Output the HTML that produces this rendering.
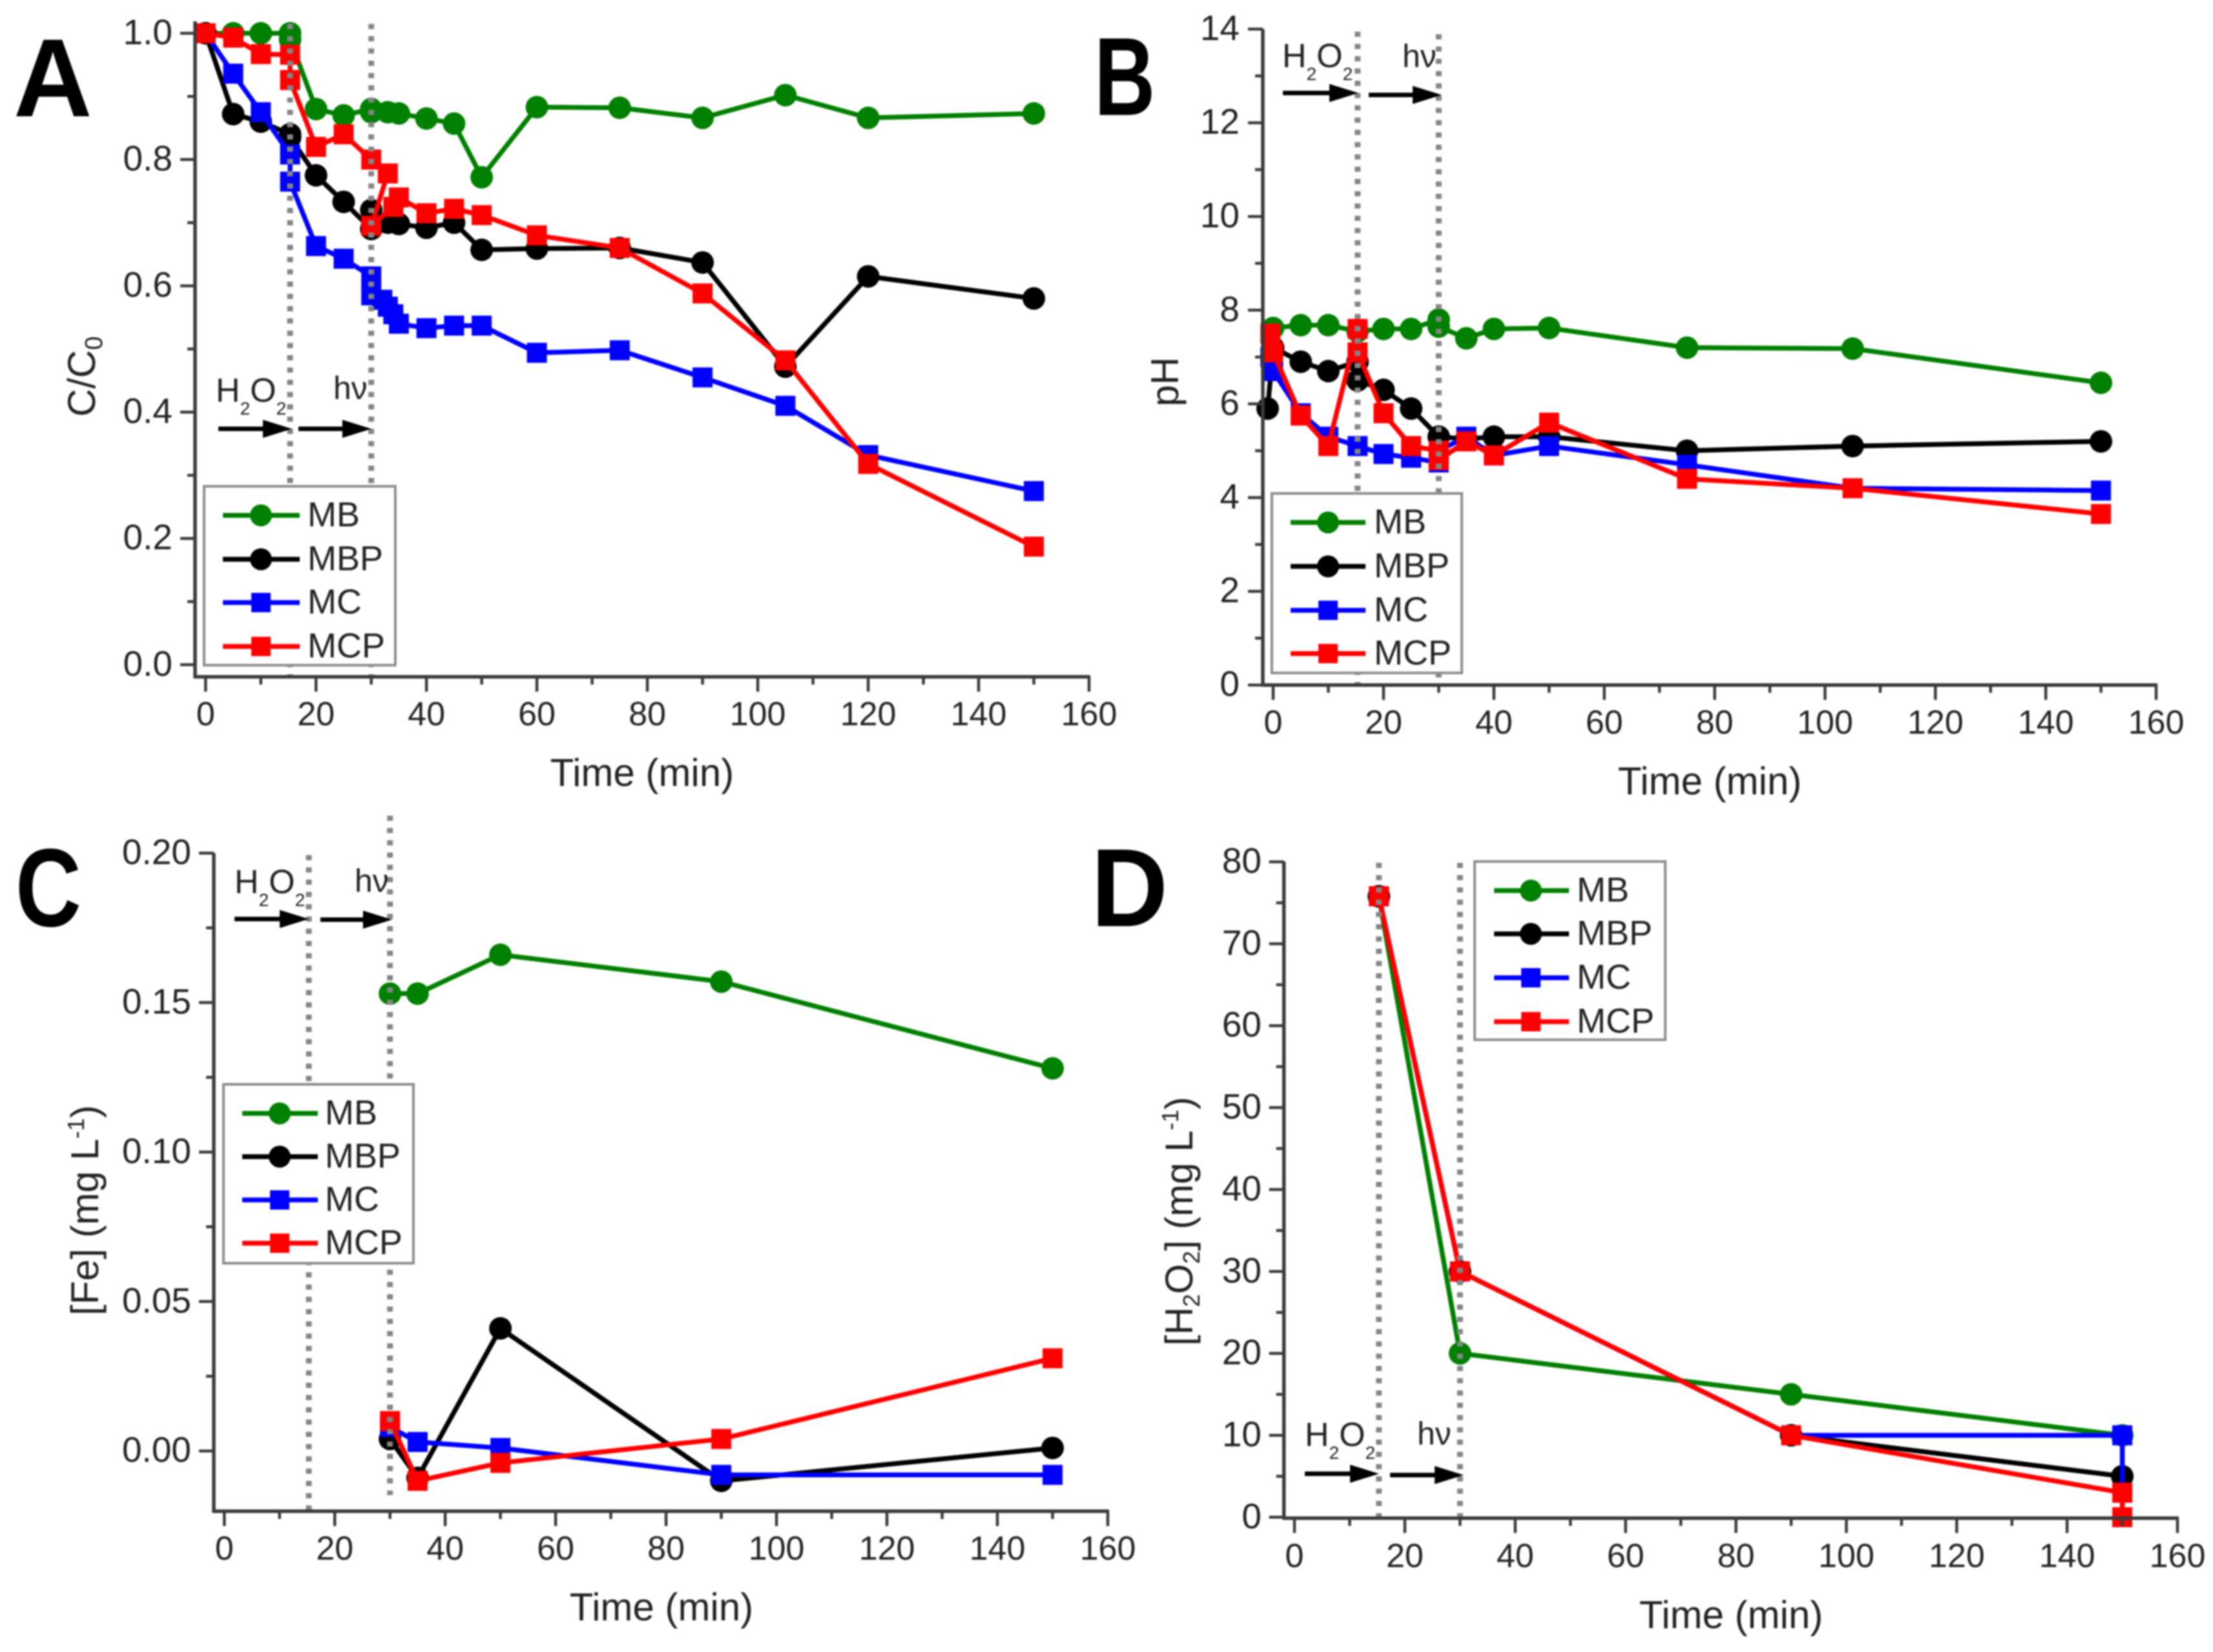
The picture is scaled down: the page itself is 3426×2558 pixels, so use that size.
<!DOCTYPE html>
<html lang="en">
<head>
<meta charset="utf-8">
<title>Degradation kinetics panels</title>
<style>
html,body{margin:0;padding:0;background:#fff}
#figure{display:block;width:3426px;height:2558px;filter:blur(1.4px);background:#fff}
text{font-family:"Liberation Sans",Arial,sans-serif;fill:#222}
.tick-x{font-size:52px}
.tick-y{font-size:55px}
.axis-title{font-size:60px}
.legend-text{font-size:54px}
.note{font-size:52px}
.note-hv{font-size:50px}
.letter{font-size:172px;font-weight:700;fill:#000}
.legend-box{fill:#fff;stroke:#8c8c8c;stroke-width:4}
.arrow-shaft{stroke:#000;stroke-width:7;fill:none}
</style>
</head>
<body>
<svg id="figure" xmlns="http://www.w3.org/2000/svg" width="3426" height="2558" viewBox="0 0 3426 2558">
<rect x="0" y="0" width="3426" height="2558" fill="#fff"/>

<g id="panel-a"><g class="plot"></g>
 <text class="letter" transform="translate(21 180) scale(.98 1)">A</text>
 <text class="axis-title" x="994" y="1217" text-anchor="middle">Time (min)</text>
 <text class="axis-title" transform="translate(147 583) rotate(-90)" text-anchor="middle">C/C<tspan font-size="38" dy="11">0</tspan></text>
 <g><rect class="legend-box" x="316" y="753" width="296" height="277"/>
  <g><line x1="345" x2="464" y1="798" y2="798" stroke="#008000" stroke-width="7.5"/><circle cx="404" cy="798" r="17" fill="#008000"/><text class="legend-text" x="476" y="815">MB</text></g>
  <g><line x1="345" x2="464" y1="866" y2="866" stroke="#000" stroke-width="7.5"/><circle cx="404" cy="866" r="17" fill="#000"/><text class="legend-text" x="476" y="883">MBP</text></g>
  <g><line x1="345" x2="464" y1="933" y2="933" stroke="#0000ff" stroke-width="7.5"/><rect x="389" y="918" width="30" height="30" fill="#0000ff"/><text class="legend-text" x="476" y="950">MC</text></g>
  <g><line x1="345" x2="464" y1="1001" y2="1001" stroke="#ff0000" stroke-width="7.5"/><rect x="389" y="986" width="30" height="30" fill="#ff0000"/><text class="legend-text" x="476" y="1018">MCP</text></g>
 </g>
 <text class="note" x="334" y="622">H<tspan font-size="28" dy="20">2</tspan><tspan dy="-20">O</tspan><tspan font-size="28" dy="20">2</tspan></text>
 <text class="note-hv" x="516" y="618">hν</text>
 <g><line class="arrow-shaft" x1="338" x2="415" y1="664" y2="664"/><polygon points="452,664 407,650 407,678" fill="#000"/></g>
 <g><line class="arrow-shaft" x1="462" x2="538" y1="664" y2="664"/><polygon points="575,664 530,650 530,678" fill="#000"/></g>
</g>

<g id="panel-b"><g class="plot"></g>
 <text class="letter" transform="translate(1694 178) scale(.76 1)">B</text>
 <text class="axis-title" x="2647" y="1230" text-anchor="middle">Time (min)</text>
 <text class="axis-title" transform="translate(1824 591) rotate(-90)" text-anchor="middle">pH</text>
 <g><rect class="legend-box" x="1969" y="764" width="294" height="278"/>
  <g><line x1="1998" x2="2114" y1="809" y2="809" stroke="#008000" stroke-width="7.5"/><circle cx="2056" cy="809" r="17" fill="#008000"/><text class="legend-text" x="2127" y="826">MB</text></g>
  <g><line x1="1998" x2="2114" y1="877" y2="877" stroke="#000" stroke-width="7.5"/><circle cx="2056" cy="877" r="17" fill="#000"/><text class="legend-text" x="2127" y="894">MBP</text></g>
  <g><line x1="1998" x2="2114" y1="945" y2="945" stroke="#0000ff" stroke-width="7.5"/><rect x="2041" y="930" width="30" height="30" fill="#0000ff"/><text class="legend-text" x="2127" y="962">MC</text></g>
  <g><line x1="1998" x2="2114" y1="1012" y2="1012" stroke="#ff0000" stroke-width="7.5"/><rect x="2041" y="997" width="30" height="30" fill="#ff0000"/><text class="legend-text" x="2127" y="1029">MCP</text></g>
 </g>
 <text class="note" x="1985" y="104">H<tspan font-size="28" dy="20">2</tspan><tspan dy="-20">O</tspan><tspan font-size="28" dy="20">2</tspan></text>
 <text class="note-hv" x="2171" y="104">hν</text>
 <g><line class="arrow-shaft" x1="1986" x2="2066" y1="144" y2="144"/><polygon points="2103,144 2058,130 2058,158" fill="#000"/></g>
 <g><line class="arrow-shaft" x1="2119" x2="2195" y1="147" y2="147"/><polygon points="2232,147 2187,133 2187,161" fill="#000"/></g>
</g>

<g id="panel-c"><g class="plot"></g>
 <text class="letter" transform="translate(24 1434) scale(.82 1)">C</text>
 <text class="axis-title" x="1024" y="2509" text-anchor="middle">Time (min)</text>
 <text class="axis-title" transform="translate(152 1874) rotate(-90)" text-anchor="middle">[Fe] (mg L<tspan font-size="36" dy="-22">-1</tspan><tspan dy="22">)</tspan></text>
 <g><rect class="legend-box" x="346" y="1679" width="294" height="277"/>
  <g><line x1="375" x2="492" y1="1724" y2="1724" stroke="#008000" stroke-width="7.5"/><circle cx="433" cy="1724" r="17" fill="#008000"/><text class="legend-text" x="503" y="1741">MB</text></g>
  <g><line x1="375" x2="492" y1="1791" y2="1791" stroke="#000" stroke-width="7.5"/><circle cx="433" cy="1791" r="17" fill="#000"/><text class="legend-text" x="503" y="1808">MBP</text></g>
  <g><line x1="375" x2="492" y1="1858" y2="1858" stroke="#0000ff" stroke-width="7.5"/><rect x="418" y="1843" width="30" height="30" fill="#0000ff"/><text class="legend-text" x="503" y="1875">MC</text></g>
  <g><line x1="375" x2="492" y1="1925" y2="1925" stroke="#ff0000" stroke-width="7.5"/><rect x="418" y="1910" width="30" height="30" fill="#ff0000"/><text class="legend-text" x="503" y="1942">MCP</text></g>
 </g>
 <text class="note" x="363" y="1383">H<tspan font-size="28" dy="20">2</tspan><tspan dy="-20">O</tspan><tspan font-size="28" dy="20">2</tspan></text>
 <text class="note-hv" x="549" y="1381">hν</text>
 <g><line class="arrow-shaft" x1="363" x2="441" y1="1423" y2="1423"/><polygon points="478,1423 433,1409 433,1437" fill="#000"/></g>
 <g><line class="arrow-shaft" x1="496" x2="570" y1="1424" y2="1424"/><polygon points="607,1424 562,1410 562,1438" fill="#000"/></g>
</g>

<g id="panel-d"><g class="plot"></g>
 <text class="letter" transform="translate(1689 1434) scale(.96 1)">D</text>
 <text class="axis-title" x="2680" y="2521" text-anchor="middle">Time (min)</text>
 <text class="axis-title" transform="translate(1846 1891) rotate(-90)" text-anchor="middle">[H<tspan font-size="36" dy="11">2</tspan><tspan dy="-11">O</tspan><tspan font-size="36" dy="11">2</tspan><tspan dy="-11">] (mg L</tspan><tspan font-size="36" dy="-22">-1</tspan><tspan dy="22">)</tspan></text>
 <g><rect class="legend-box" x="2283" y="1334" width="295" height="276"/>
  <g><line x1="2313" x2="2429" y1="1379" y2="1379" stroke="#008000" stroke-width="7.5"/><circle cx="2370" cy="1379" r="17" fill="#008000"/><text class="legend-text" x="2441" y="1396">MB</text></g>
  <g><line x1="2313" x2="2429" y1="1446" y2="1446" stroke="#000" stroke-width="7.5"/><circle cx="2370" cy="1446" r="17" fill="#000"/><text class="legend-text" x="2441" y="1463">MBP</text></g>
  <g><line x1="2313" x2="2429" y1="1514" y2="1514" stroke="#0000ff" stroke-width="7.5"/><rect x="2355" y="1499" width="30" height="30" fill="#0000ff"/><text class="legend-text" x="2441" y="1531">MC</text></g>
  <g><line x1="2313" x2="2429" y1="1582" y2="1582" stroke="#ff0000" stroke-width="7.5"/><rect x="2355" y="1567" width="30" height="30" fill="#ff0000"/><text class="legend-text" x="2441" y="1599">MCP</text></g>
 </g>
 <text class="note" x="2020" y="2239">H<tspan font-size="28" dy="20">2</tspan><tspan dy="-20">O</tspan><tspan font-size="28" dy="20">2</tspan></text>
 <text class="note-hv" x="2194" y="2237">hν</text>
 <g><line class="arrow-shaft" x1="2020" x2="2098" y1="2282" y2="2282"/><polygon points="2135,2282 2090,2268 2090,2296" fill="#000"/></g>
 <g><line class="arrow-shaft" x1="2152" x2="2229" y1="2284" y2="2284"/><polygon points="2266,2284 2221,2270 2221,2298" fill="#000"/></g>
</g>
</svg>

<script>
// ---- shared axis data ----
const timeTickLabels = ["0","20","40","60","80","100","120","140","160"];
const treatmentTimes = [15.3, 30];

// ---- panel A: C/C0 ----
const aYTickLabels = ["0.0","0.2","0.4","0.6","0.8","1.0"];
const aMbTime  = [0,5,10,15.3,15.3,20,25,30,30,33,35,40,45,50,60,75,90,105,120,150];
const aMbVals  = [1,1,1,1,.99,.88,.87,.88,.875,.875,.873,.865,.857,.772,.883,.882,.866,.902,.866,.873];
const aMbpTime = [0,5,10,15.3,15.3,20,25,30,30,33,35,40,45,50,60,75,90,105,120,150];
const aMbpVals = [1,.872,.86,.84,.835,.775,.733,.69,.72,.70,.698,.692,.70,.657,.659,.66,.637,.472,.615,.58];
const aMcTime  = [0,5,10,15.3,15.3,20,25,30,30,32,33,34,35,40,45,50,60,75,90,105,120,150];
const aMcVals  = [1,.936,.875,.808,.765,.663,.643,.615,.585,.578,.567,.555,.54,.533,.537,.537,.494,.498,.455,.41,.332,.275];
const aMcpTime = [0,5,10,15.3,15.3,20,25,30,33,30,34,35,40,45,50,60,75,90,105,120,150];
const aMcpVals = [1,.993,.967,.966,.926,.82,.84,.80,.778,.695,.725,.74,.715,.722,.712,.68,.66,.588,.482,.318,.187];

// ---- panel B: pH ----
const bYTickLabels = ["0","2","4","6","8","10","12","14"];
const bMbTime  = [0,5,10,15.3,20,25,30,30,35,40,50,75,105,150];
const bMbVals  = [7.62,7.68,7.68,7.55,7.6,7.6,7.8,7.65,7.4,7.6,7.62,7.2,7.18,6.45];
const bMbpTime = [-1,0,5,10,15.3,15.3,20,25,30,35,40,50,75,105,150];
const bMbpVals = [5.9,7.2,6.9,6.7,6.9,6.5,6.3,5.9,5.3,5.25,5.3,5.3,5,5.1,5.2];
const bMcTime  = [-0.5,0,5,10,15.3,20,25,30,30,35,40,50,75,105,150];
const bMcVals  = [7,6.7,5.8,5.3,5.1,4.93,4.85,4.75,5,5.3,4.9,5.1,4.7,4.2,4.15];
const bMcpTime = [-0.5,0,5,10,15.3,15.3,20,25,30,30,35,40,50,75,105,150];
const bMcpVals = [7.5,7.1,5.75,5.1,7.6,7.1,5.8,5.1,5,4.8,5.2,4.9,5.6,4.4,4.2,3.65];

// ---- panel C: [Fe] ----
const cYTickLabels = ["0.00","0.05","0.10","0.15","0.20"];
const cTime    = [30,35,50,90,150];
const cMbVals  = [.153,.153,.166,.157,.128];
const cMbpVals = [.004,-.009,.041,-.01,.001];
const cMcVals  = [.008,.003,.001,-.008,-.008];
const cMcpVals = [.01,-.01,-.004,.004,.031];

// ---- panel D: [H2O2] ----
const dYTickLabels = ["0","10","20","30","40","50","60","70","80"];
const dMbTime  = [15.3,30,90,150];
const dMbVals  = [75.8,20,15,10];
const dMbpTime = [15.3,30,90,150];
const dMbpVals = [75.8,30,10,5];
const dMcTime  = [15.3,30,90,150,150];
const dMcVals  = [75.8,30,10,10,3];
const dMcpTime = [15.3,30,90,150,150];
const dMcpVals = [75.8,30,10,3,0];

const seriesStyles = {
  mb:{color:"#008000",shape:"circle"},
  mbp:{color:"#000000",shape:"circle"},
  mc:{color:"#0000ff",shape:"square"},
  mcp:{color:"#ff0000",shape:"square"}
};

const NS = "http://www.w3.org/2000/svg";
function make(tag, attrs, parent){
  const el = document.createElementNS(NS, tag);
  for (const k in attrs) el.setAttribute(k, attrs[k]);
  parent.appendChild(el);
  return el;
}

function drawPanel(id, frame, yLabels, series){
  const root = document.querySelector("#panel-" + id + " .plot");
  const xScale = t => frame.x0 + (t - 0) * (frame.x1 - frame.x0) / 160;
  const yScale = v => frame.yLo + (v - frame.vLo) * (frame.yHi - frame.yLo) / (frame.vHi - frame.vLo);
  const AX = "#3a3a3a";

  series.forEach(s => {
    const st = seriesStyles[s.key];
    const g = make("g", {}, root);
    
    
    const pts = s.t.map((t,i) => xScale(t).toFixed(1) + "," + yScale(s.v[i]).toFixed(1)).join(" ");
    const line = make("polyline", {points:pts, fill:"none", stroke:st.color, "stroke-width":7.5, "stroke-linejoin":"round"}, g);
    
    
    s.t.forEach((t,i) => {
      const px = xScale(t), py = yScale(s.v[i]);
      const m = st.shape === "circle"
        ? make("circle", {cx:px, cy:py, r:17.5, fill:st.color}, g)
        : make("rect", {x:px-15.5, y:py-15.5, width:31, height:31, fill:st.color}, g);
      
      
    });
  });

  treatmentTimes.forEach((t,i) => {
    const v = make("line", {x1:xScale(t), x2:xScale(t), y1:frame.dotTop[i], y2:frame.dotBottom[i], stroke:"#858585", "stroke-width":9, "stroke-dasharray":"8 11"}, root);
    
    
  });

  const axisY = make("line", {x1:frame.axisLeft, x2:frame.axisLeft, y1:frame.axisTop, y2:frame.axisBottom+2, stroke:AX, "stroke-width":5.5}, root);
  
  
  const axisX = make("line", {x1:frame.axisLeft-2, x2:frame.x1+2, y1:frame.axisBottom, y2:frame.axisBottom, stroke:AX, "stroke-width":5.5}, root);
  
  

  timeTickLabels.forEach((label,i) => {
    const t = Number(label), px = xScale(t);
    const tick = make("line", {x1:px, x2:px, y1:frame.axisBottom, y2:frame.axisBottom+23, stroke:AX, "stroke-width":4.5}, root);
    
    
    const txt = make("text", {class:"tick-x", x:px, y:frame.xLabelY, "text-anchor":"middle"}, root);
    txt.textContent = label;
    
    
    if (i < timeTickLabels.length - 1) {
      const mx = xScale((t + Number(timeTickLabels[i+1])) / 2);
      const minor = make("line", {x1:mx, x2:mx, y1:frame.axisBottom, y2:frame.axisBottom+12, stroke:AX, "stroke-width":4.5}, root);
      
      
    }
  });

  yLabels.forEach((label,i) => {
    const v = Number(label), py = yScale(v);
    const tick = make("line", {x1:frame.axisLeft-23, x2:frame.axisLeft, y1:py, y2:py, stroke:AX, "stroke-width":4.5}, root);
    
    
    const txt = make("text", {class:"tick-y", x:frame.labelRight, y:py+17, "text-anchor":"end"}, root);
    txt.textContent = label;
    
    
    if (i < yLabels.length - 1) {
      const my = yScale((v + Number(yLabels[i+1])) / 2);
      const minor = make("line", {x1:frame.axisLeft-12, x2:frame.axisLeft, y1:my, y2:my, stroke:AX, "stroke-width":4.5}, root);
      
      
    }
  });
}

drawPanel("a",
  {x0:318.3,x1:1686,yLo:1029.3,yHi:51.5,vLo:0,vHi:1,axisLeft:302,axisTop:33,axisBottom:1048,xLabelY:1123,labelRight:267,dotTop:[37,37],dotBottom:[1048,1048]},
  aYTickLabels,
  [{key:"mb",t:aMbTime,v:aMbVals},{key:"mbp",t:aMbpTime,v:aMbpVals},{key:"mc",t:aMcTime,v:aMcVals},{key:"mcp",t:aMcpTime,v:aMcpVals}]);

drawPanel("b",
  {x0:1971,x1:3338,yLo:1060.7,yHi:45,vLo:0,vHi:14,axisLeft:1955,axisTop:45,axisBottom:1060.7,xLabelY:1136,labelRight:1919,dotTop:[49,53],dotBottom:[1060,1060]},
  bYTickLabels,
  [{key:"mb",t:bMbTime,v:bMbVals},{key:"mbp",t:bMbpTime,v:bMbpVals},{key:"mc",t:bMcTime,v:bMcVals},{key:"mcp",t:bMcpTime,v:bMcpVals}]);

drawPanel("c",
  {x0:347.3,x1:1715,yLo:2246.7,yHi:1321,vLo:0,vHi:.2,axisLeft:331,axisTop:1321,axisBottom:2340,xLabelY:2415,labelRight:296,dotTop:[1324,1263],dotBottom:[2339,2315]},
  cYTickLabels,
  [{key:"mb",t:cTime,v:cMbVals},{key:"mbp",t:cTime,v:cMbpVals},{key:"mc",t:cTime,v:cMcVals},{key:"mcp",t:cTime,v:cMcpVals}]);

drawPanel("d",
  {x0:2004,x1:3371,yLo:2349.3,yHi:1334.5,vLo:0,vHi:80,axisLeft:1987.7,axisTop:1334,axisBottom:2350.7,xLabelY:2426.7,labelRight:1953,dotTop:[1336,1336],dotBottom:[2350,2350]},
  dYTickLabels,
  [{key:"mb",t:dMbTime,v:dMbVals},{key:"mbp",t:dMbpTime,v:dMbpVals},{key:"mc",t:dMcTime,v:dMcVals},{key:"mcp",t:dMcpTime,v:dMcpVals}]);
</script>
</body>
</html>
